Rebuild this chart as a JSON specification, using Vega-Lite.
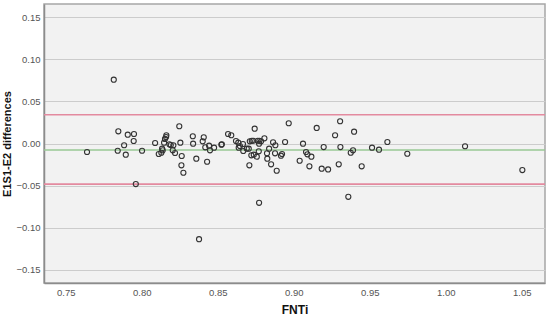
{
  "$schema": "https://vega.github.io/schema/vega-lite/v6.json",
  "width": 501,
  "height": 279,
  "autosize": "none",
  "padding": {"left": 44, "top": 4, "right": 5, "bottom": 38},
  "background": "#ffffff",
  "config": {
    "view": {"fill": "#f2f2f2", "stroke": "#a6a6a6", "strokeWidth": 1.5},
    "font": "Liberation Sans"
  },
  "datasets": {
    "pts": [
      {"fnti": 0.7816, "diff": 0.0760},
      {"fnti": 0.7640, "diff": -0.0101},
      {"fnti": 0.7846, "diff": 0.0145},
      {"fnti": 0.7908, "diff": 0.0105},
      {"fnti": 0.7949, "diff": 0.0113},
      {"fnti": 0.7947, "diff": 0.0030},
      {"fnti": 0.7884, "diff": -0.0021},
      {"fnti": 0.7842, "diff": -0.0086},
      {"fnti": 0.7895, "diff": -0.0133},
      {"fnti": 0.8002, "diff": -0.0086},
      {"fnti": 0.7961, "diff": -0.0483},
      {"fnti": 0.8088, "diff": 0.0006},
      {"fnti": 0.8247, "diff": 0.0205},
      {"fnti": 0.8162, "diff": 0.0098},
      {"fnti": 0.8160, "diff": 0.0077},
      {"fnti": 0.8153, "diff": 0.0054},
      {"fnti": 0.8147, "diff": 0.0010},
      {"fnti": 0.8182, "diff": -0.0010},
      {"fnti": 0.8191, "diff": -0.0018},
      {"fnti": 0.8208, "diff": -0.0021},
      {"fnti": 0.8134, "diff": -0.0062},
      {"fnti": 0.8138, "diff": -0.0081},
      {"fnti": 0.8129, "diff": -0.0110},
      {"fnti": 0.8112, "diff": -0.0125},
      {"fnti": 0.8204, "diff": -0.0081},
      {"fnti": 0.8219, "diff": -0.0113},
      {"fnti": 0.8254, "diff": 0.0010},
      {"fnti": 0.8263, "diff": -0.0149},
      {"fnti": 0.8261, "diff": -0.0260},
      {"fnti": 0.8274, "diff": -0.0348},
      {"fnti": 0.8336, "diff": 0.0086},
      {"fnti": 0.8338, "diff": -0.0002},
      {"fnti": 0.8359, "diff": -0.0181},
      {"fnti": 0.8408, "diff": 0.0074},
      {"fnti": 0.8401, "diff": 0.0026},
      {"fnti": 0.8418, "diff": -0.0045},
      {"fnti": 0.8443, "diff": -0.0026},
      {"fnti": 0.8449, "diff": -0.0081},
      {"fnti": 0.8476, "diff": -0.0050},
      {"fnti": 0.8430, "diff": -0.0217},
      {"fnti": 0.8524, "diff": -0.0014},
      {"fnti": 0.8527, "diff": -0.0010},
      {"fnti": 0.8568, "diff": 0.0113},
      {"fnti": 0.8589, "diff": 0.0098},
      {"fnti": 0.8620, "diff": 0.0030},
      {"fnti": 0.8635, "diff": 0.0010},
      {"fnti": 0.8646, "diff": -0.0030},
      {"fnti": 0.8638, "diff": -0.0050},
      {"fnti": 0.8666, "diff": -0.0006},
      {"fnti": 0.8668, "diff": -0.0089},
      {"fnti": 0.8691, "diff": -0.0062},
      {"fnti": 0.8704, "diff": -0.0062},
      {"fnti": 0.8743, "diff": 0.0176},
      {"fnti": 0.8711, "diff": 0.0026},
      {"fnti": 0.8724, "diff": 0.0033},
      {"fnti": 0.8734, "diff": 0.0033},
      {"fnti": 0.8763, "diff": 0.0033},
      {"fnti": 0.8774, "diff": 0.0033},
      {"fnti": 0.8785, "diff": 0.0026},
      {"fnti": 0.8807, "diff": 0.0062},
      {"fnti": 0.8772, "diff": -0.0002},
      {"fnti": 0.8721, "diff": -0.0141},
      {"fnti": 0.8737, "diff": -0.0133},
      {"fnti": 0.8757, "diff": -0.0157},
      {"fnti": 0.8770, "diff": -0.0093},
      {"fnti": 0.8708, "diff": -0.0260},
      {"fnti": 0.8838, "diff": -0.0062},
      {"fnti": 0.8824, "diff": -0.0117},
      {"fnti": 0.8826, "diff": -0.0181},
      {"fnti": 0.8851, "diff": -0.0248},
      {"fnti": 0.8864, "diff": 0.0014},
      {"fnti": 0.8879, "diff": -0.0021},
      {"fnti": 0.8877, "diff": -0.0117},
      {"fnti": 0.8888, "diff": -0.0324},
      {"fnti": 0.8916, "diff": -0.0145},
      {"fnti": 0.8923, "diff": -0.0125},
      {"fnti": 0.8943, "diff": 0.0018},
      {"fnti": 0.8967, "diff": 0.0241},
      {"fnti": 0.9061, "diff": -0.0002},
      {"fnti": 0.9039, "diff": -0.0205},
      {"fnti": 0.9081, "diff": -0.0101},
      {"fnti": 0.9090, "diff": -0.0129},
      {"fnti": 0.9116, "diff": -0.0157},
      {"fnti": 0.9103, "diff": -0.0272},
      {"fnti": 0.9151, "diff": 0.0185},
      {"fnti": 0.9184, "diff": -0.0300},
      {"fnti": 0.9226, "diff": -0.0308},
      {"fnti": 0.9197, "diff": -0.0042},
      {"fnti": 0.9272, "diff": 0.0098},
      {"fnti": 0.9305, "diff": 0.0265},
      {"fnti": 0.9307, "diff": -0.0042},
      {"fnti": 0.9296, "diff": -0.0248},
      {"fnti": 0.9375, "diff": -0.0110},
      {"fnti": 0.9390, "diff": -0.0081},
      {"fnti": 0.9397, "diff": 0.0141},
      {"fnti": 0.9447, "diff": -0.0272},
      {"fnti": 0.9515, "diff": -0.0050},
      {"fnti": 0.9561, "diff": -0.0074},
      {"fnti": 0.9616, "diff": 0.0018},
      {"fnti": 0.9747, "diff": -0.0122},
      {"fnti": 1.0127, "diff": -0.0033},
      {"fnti": 1.0504, "diff": -0.0316},
      {"fnti": 0.8377, "diff": -0.1138},
      {"fnti": 0.8772, "diff": -0.0706},
      {"fnti": 0.9359, "diff": -0.0634}
    ],
    "lines": [
      {"v": 0.0343, "k": "upper"},
      {"v": -0.0077, "k": "mean"},
      {"v": -0.0483, "k": "lower"}
    ]
  },
  "layer": [
    {
      "data": {"name": "lines"},
      "mark": {"type": "rule", "strokeWidth": 1.6},
      "encoding": {
        "y": {
          "field": "v",
          "type": "quantitative",
          "scale": {"domain": [-0.166, 0.166], "nice": false, "zero": false},
          "axis": {
            "title": "E1S1-E2 differences",
            "values": [-0.15, -0.1, -0.05, 0, 0.05, 0.1, 0.15],
            "format": ".2f",
            "grid": true,
            "gridColor": "#cccccc",
            "gridWidth": 1,
            "ticks": false,
            "domainColor": "#8c8c8c",
            "domainWidth": 1.5,
            "labelFont": "Liberation Sans",
            "labelFontSize": 9.5,
            "labelColor": "#555555",
            "labelPadding": 4,
            "titleFont": "Liberation Sans",
            "titleFontSize": 11,
            "titleFontWeight": "bold",
            "titleColor": "#111111",
            "titlePadding": 3
          }
        },
        "color": {
          "field": "k",
          "type": "nominal",
          "scale": {"domain": ["upper", "mean", "lower"], "range": ["#e38a9f", "#98c995", "#e38a9f"]},
          "legend": null
        }
      }
    },
    {
      "data": {"name": "pts"},
      "mark": {"type": "point", "shape": "circle", "filled": false, "stroke": "#333333", "strokeWidth": 1.1, "size": 26, "opacity": 1},
      "encoding": {
        "x": {
          "field": "fnti",
          "type": "quantitative",
          "scale": {"domain": [0.7357, 1.0653], "nice": false, "zero": false},
          "axis": {
            "title": "FNTi",
            "values": [0.75, 0.8, 0.85, 0.9, 0.95, 1.0, 1.05],
            "format": ".2f",
            "grid": false,
            "ticks": false,
            "domainColor": "#8c8c8c",
            "domainWidth": 1.5,
            "labelFont": "Liberation Sans",
            "labelFontSize": 9.5,
            "labelColor": "#555555",
            "labelPadding": 4,
            "titleFont": "Liberation Sans",
            "titleFontSize": 12,
            "titleFontWeight": "bold",
            "titleColor": "#111111",
            "titlePadding": 8
          }
        },
        "y": {"field": "diff", "type": "quantitative"}
      }
    }
  ]
}
